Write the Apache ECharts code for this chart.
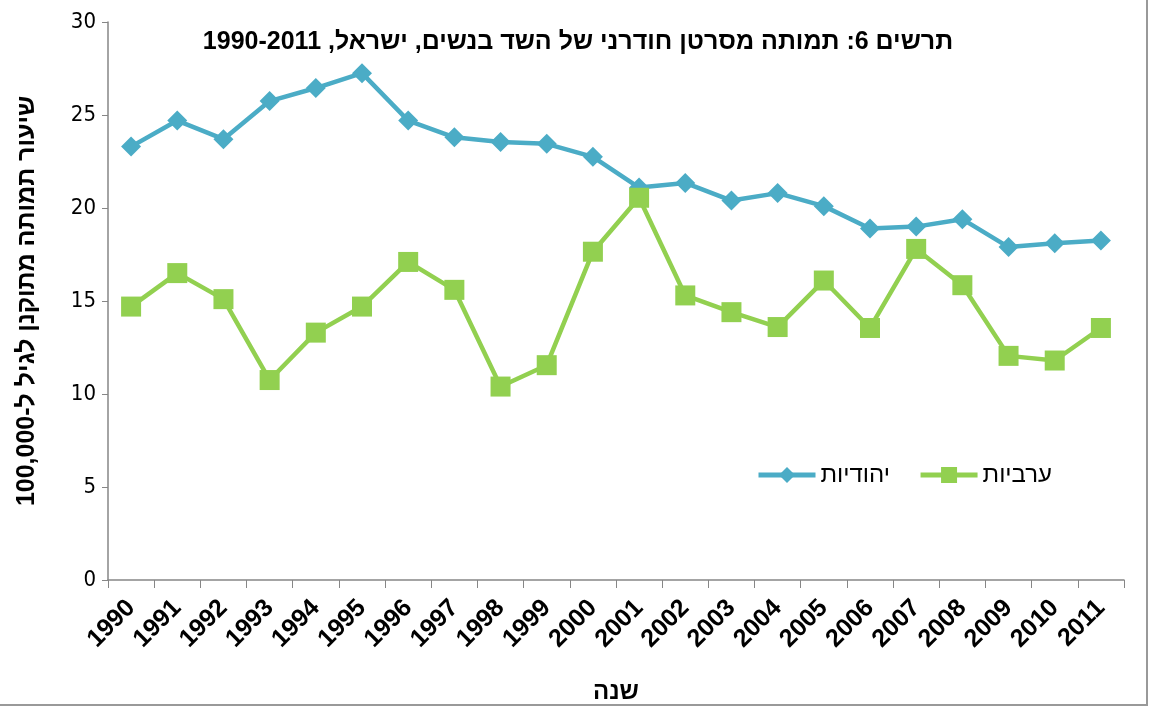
<!DOCTYPE html>
<html>
<head>
<meta charset="utf-8">
<style>
  html, body { margin: 0; padding: 0; background: #fff; }
  #main { width: 1151px; height: 711px; }
</style>
</head>
<body>
<div id="main"></div>
<script src="https://cdn.jsdelivr.net/npm/echarts@6/dist/echarts.min.js"></script>
<script>
  var years = ['1990', '1991', '1992', '1993', '1994', '1995', '1996', '1997', '1998', '1999', '2000',
               '2001', '2002', '2003', '2004', '2005', '2006', '2007', '2008', '2009', '2010', '2011'];
  // יהודיות
  var jewish = [23.3, 24.7, 23.7, 25.75, 26.45, 27.25, 24.7, 23.8, 23.55, 23.45, 22.75,
                21.1, 21.35, 20.4, 20.8, 20.1, 18.9, 19.0, 19.4, 17.9, 18.1, 18.25];
  // ערביות
  var arab = [14.7, 16.5, 15.1, 10.75, 13.3, 14.7, 17.1, 15.6, 10.4, 11.55, 17.65,
              20.55, 15.3, 14.4, 13.6, 16.1, 13.55, 17.8, 15.85, 12.05, 11.8, 13.55];
  var yTicks = [0, 5, 10, 15, 20, 25, 30];

  var chart = echarts.init(document.getElementById('main'));
  chart.setOption({
    animation: false,
    title: {
      text: 'תרשים 6: תמותה מסרטן חודרני של השד בנשים, ישראל, 1990-2011',
      left: 573,
      top: 25,
      textAlign: 'center',
      textStyle: { fontFamily: 'Liberation Sans', fontWeight: 'bold', fontSize: 25, color: '#000' }
    },
    legend: {
      left: 751,
      top: 458,
      itemWidth: 57,
      itemHeight: 20,
      itemGap: 28,
      lineStyle: { width: 5 },
      textStyle: { fontFamily: 'Liberation Sans', fontSize: 24, color: '#000' },
      data: ['יהודיות', 'ערביות']
    },
    grid: { left: 108, right: 27, top: 22, bottom: 131 },
    xAxis: {
      type: 'category',
      data: years,
      boundaryGap: true,
      name: 'שנה',
      nameLocation: 'middle',
      nameGap: 100,
      nameTextStyle: { fontFamily: 'Liberation Sans', fontWeight: 'bold', fontSize: 24, color: '#000' },
      axisLine: { lineStyle: { color: '#868686', width: 1.5 } },
      axisTick: { show: true, length: 8, alignWithLabel: false, lineStyle: { color: '#868686' } },
      axisLabel: {
        rotate: 45, interval: 0, margin: 24,
        fontFamily: 'Liberation Sans', fontWeight: 'bold', fontSize: 25, color: '#000'
      },
      splitLine: { show: false }
    },
    yAxis: {
      type: 'value',
      min: yTicks[0],
      max: yTicks[yTicks.length - 1],
      interval: 5,
      name: 'שיעור תמותה מתוקנן לגיל ל-100,000',
      nameLocation: 'middle',
      nameGap: 68,
      nameTextStyle: { fontFamily: 'Liberation Sans', fontWeight: 'bold', fontSize: 25, color: '#000' },
      axisLine: { show: true, lineStyle: { color: '#868686', width: 1.5 } },
      axisTick: { show: true, length: 6, lineStyle: { color: '#868686' } },
      axisLabel: { margin: 12, fontFamily: 'DejaVu Sans Condensed, Liberation Sans', fontSize: 22, color: '#000' },
      splitLine: { show: false }
    },
    graphic: [{
      type: 'rect',
      shape: { x: -2, y: -2, width: 1149, height: 707 },
      style: { fill: 'none', stroke: '#999', lineWidth: 2 },
      silent: true
    }],
    series: [
      {
        name: 'יהודיות',
        type: 'line',
        data: jewish,
        symbol: 'diamond',
        symbolSize: 20,
        lineStyle: { color: '#4bacc6', width: 4.5 },
        itemStyle: { color: '#4bacc6' }
      },
      {
        name: 'ערביות',
        type: 'line',
        data: arab,
        symbol: 'rect',
        symbolSize: 20,
        lineStyle: { color: '#92d050', width: 4.5 },
        itemStyle: { color: '#92d050' }
      }
    ]
  });
</script>
</body>
</html>
